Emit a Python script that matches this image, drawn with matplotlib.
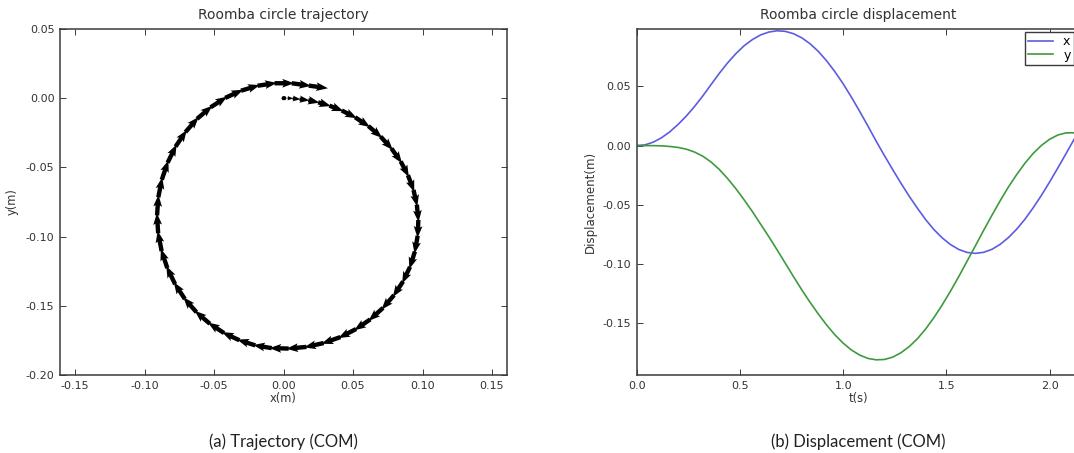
import numpy as np
import matplotlib
matplotlib.use("Agg")
import matplotlib.pyplot as plt
from matplotlib.ticker import FormatStrFormatter

plt.rcParams['axes.unicode_minus'] = False
plt.rcParams['font.family'] = ['DejaVu Sans']

# time samples (s)
t = [0.00, 0.04, 0.08, 0.12, 0.16, 0.20, 0.24, 0.28, 0.32, 0.36,
     0.40, 0.44, 0.48, 0.52, 0.56, 0.60, 0.64, 0.68, 0.72, 0.76,
     0.80, 0.84, 0.88, 0.92, 0.96, 1.00, 1.04, 1.08, 1.12, 1.16,
     1.20, 1.24, 1.28, 1.32, 1.36, 1.40, 1.44, 1.48, 1.52, 1.56,
     1.60, 1.64, 1.68, 1.72, 1.76, 1.80, 1.84, 1.88, 1.92, 1.96,
     2.00, 2.04, 2.08, 2.12, 2.16]

# COM displacement (m)
x_disp = [0.0, 0.0006, 0.0029, 0.0066, 0.0116, 0.0178, 0.0249, 0.0330, 0.0419, 0.0515,
          0.0610, 0.0698, 0.0776, 0.0843, 0.0895, 0.0935, 0.0959, 0.0970, 0.0965, 0.0945,
          0.0910, 0.0860, 0.0795, 0.0716, 0.0624, 0.0522, 0.0409, 0.0289, 0.0165, 0.0037,
          -0.0085, -0.0203, -0.0318, -0.0428, -0.0530, -0.0626, -0.0710, -0.0780, -0.0836, -0.0877,
          -0.0902, -0.0910, -0.0901, -0.0876, -0.0834, -0.0777, -0.0706, -0.0622, -0.0525, -0.0420,
          -0.0306, -0.0187, -0.0065, 0.0059, 0.0181]
y_disp = [0.0, 0.0, 0.0, -0.0002, -0.0007, -0.0015, -0.0030, -0.0054, -0.0089, -0.0138,
          -0.0201, -0.0277, -0.0363, -0.0457, -0.0556, -0.0663, -0.0769, -0.0880, -0.0994, -0.1108,
          -0.1219, -0.1324, -0.1423, -0.1515, -0.1598, -0.1668, -0.1726, -0.1769, -0.1797, -0.1809,
          -0.1806, -0.1786, -0.1749, -0.1697, -0.1630, -0.1547, -0.1451, -0.1344, -0.1228, -0.1105,
          -0.0976, -0.0847, -0.0716, -0.0589, -0.0466, -0.0350, -0.0245, -0.0149, -0.0066, 0.0002,
          0.0054, 0.0090, 0.0108, 0.0108, 0.0091]

traj_xticks = [-0.15, -0.10, -0.05, 0.00, 0.05, 0.10, 0.15]
traj_yticks = [-0.20, -0.15, -0.10, -0.05, 0.00, 0.05]
disp_xticks = [0.0, 0.5, 1.0, 1.5, 2.0]
disp_yticks = [-0.15, -0.10, -0.05, 0.00, 0.05]

TXT = '#333333'
FRAME = '#3a3a3a'


def style_axes(ax):
    for s in ax.spines.values():
        s.set_color(FRAME)
        s.set_linewidth(1.1)
    ax.tick_params(direction='in', length=4, width=0.7, colors=FRAME,
                   labelcolor=TXT, labelsize=8, top=True, right=True, pad=4)


def main():
    x = np.array(x_disp)
    y = np.array(y_disp)
    # arrow from each sample towards the next one
    u = np.append(np.diff(x), x[-1] - x[-2])
    v = np.append(np.diff(y), y[-1] - y[-2])

    fig = plt.figure(figsize=(10.74, 4.53), dpi=100)

    # (a) trajectory
    ax1 = fig.add_axes([0.0559, 0.1722, 0.4162, 0.7638])
    ax1.quiver(x, y, u, v, angles='xy', scale_units='xy', scale=0.88,
               color='black', width=0.0098, headwidth=2.0, headlength=2.7,
               headaxislength=2.4)
    ax1.set_xlim(-0.1608, 0.1608)
    ax1.set_ylim(-0.20, 0.05)
    ax1.set_xticks(traj_xticks)
    ax1.set_yticks(traj_yticks)
    ax1.xaxis.set_major_formatter(FormatStrFormatter('%.2f'))
    ax1.yaxis.set_major_formatter(FormatStrFormatter('%.2f'))
    ax1.set_title('Roomba circle trajectory', fontsize=10, color=TXT, pad=7)
    ax1.set_xlabel('x(m)', fontsize=8.3, color=TXT, labelpad=1)
    ax1.set_ylabel('y(m)', fontsize=8.3, color=TXT, labelpad=5)
    style_axes(ax1)

    # (b) displacement
    ax2 = fig.add_axes([0.5928, 0.1722, 0.4134, 0.7638])
    ax2.plot(t, x, color='#5c5ce2', lw=1.2, label='x')
    ax2.plot(t, y, color='#3f9a3f', lw=1.2, label='y')
    ax2.set_xlim(0, 2.15)
    ax2.set_ylim(-0.1937, 0.0985)
    ax2.set_xticks(disp_xticks)
    ax2.set_yticks(disp_yticks)
    ax2.xaxis.set_major_formatter(FormatStrFormatter('%.1f'))
    ax2.yaxis.set_major_formatter(FormatStrFormatter('%.2f'))
    ax2.set_title('Roomba circle displacement', fontsize=10, color=TXT, pad=7)
    ax2.set_xlabel('t(s)', fontsize=8.3, color=TXT, labelpad=1)
    ax2.set_ylabel('Displacement(m)', fontsize=8.5, color=TXT, labelpad=4)
    style_axes(ax2)
    leg = ax2.legend(loc='upper left', bbox_to_anchor=(1025 / 1074, 1 - 32.3 / 453),
                     bbox_transform=fig.transFigure, borderaxespad=0,
                     fontsize=9, handlelength=2.0, labelspacing=0.02,
                     borderpad=0.25, fancybox=False, framealpha=1)
    leg.get_frame().set_edgecolor(FRAME)
    leg.get_frame().set_linewidth(1.0)

    # captions under each panel
    fig.text(283.5 / 1074, 1 - 441.7 / 453, '(a) Trajectory (COM)',
             family=['Lato', 'DejaVu Sans'], fontsize=12, color='#222222',
             ha='center', va='center')
    fig.text(858 / 1074, 1 - 441.7 / 453, '(b) Displacement (COM)',
             family=['Lato', 'DejaVu Sans'], fontsize=12, color='#222222',
             ha='center', va='center')

    fig.savefig('out.png', dpi=100)


if __name__ == "__main__":
    main()
